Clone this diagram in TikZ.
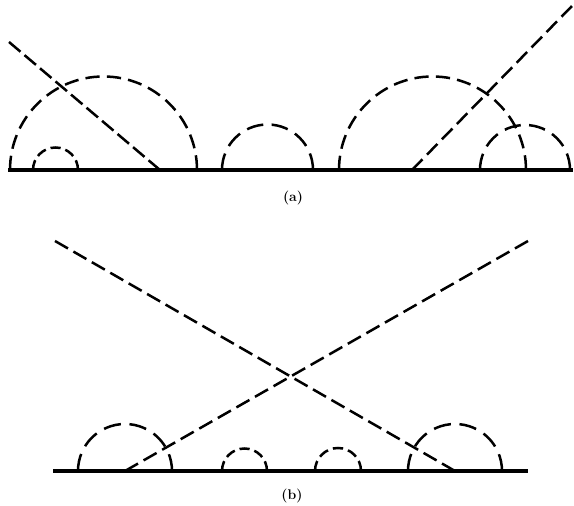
\documentclass[tikz,border=0pt]{standalone}
\usepackage{tikz}

\begin{document}
\begin{tikzpicture}[x=1pt,y=1pt,line width=2.5pt,
  discont/.style 2 args={dash pattern=on #1pt off #2pt},
  base/.style={line width=3.4pt},
  rotulo/.style={font=\fontsize{14}{16}\selectfont\bfseries}]
  \useasboundingbox (0,0) rectangle (574,506);
  % (a)
  \draw[base] (8,336)--(573,336);
  \foreach \cx/\r/\on/\off in {103.5/93.5/14.3/7.16,55.5/22.5/10.1/5.05,267.5/45.5/16.8/8.4,
      432.5/93.5/14.3/7.16,525/45/16.6/8.3}
    \draw[discont={\on}{\off}] ({\cx-\r},336) arc[start angle=180,end angle=0,radius=\r];
  \draw[discont={15}{5.33}] (9,464)--(160,336);
  \draw[discont={15}{6.41}] (412,336)--(572,500);
  \node[rotulo] (lbla) at (293,307.5){(a)};
  % (b)
  \draw[base] (53,35)--(528,35);
  \foreach \cx/\r/\on/\off in {125/47/17.4/8.7,244.5/22.5/10.1/5.05,338/23/10.3/5.16,455/47/17.4/8.7}
    \draw[discont={\on}{\off}] ({\cx-\r},35) arc[start angle=180,end angle=0,radius=\r];
  \draw[discont={15}{6.38}] (125,35)--(528,265);
  \draw[discont={15}{6.26}] (455,35)--(55,265);
  \node[rotulo] (lblb) at (292,10){(b)};
\end{tikzpicture}
\end{document}
